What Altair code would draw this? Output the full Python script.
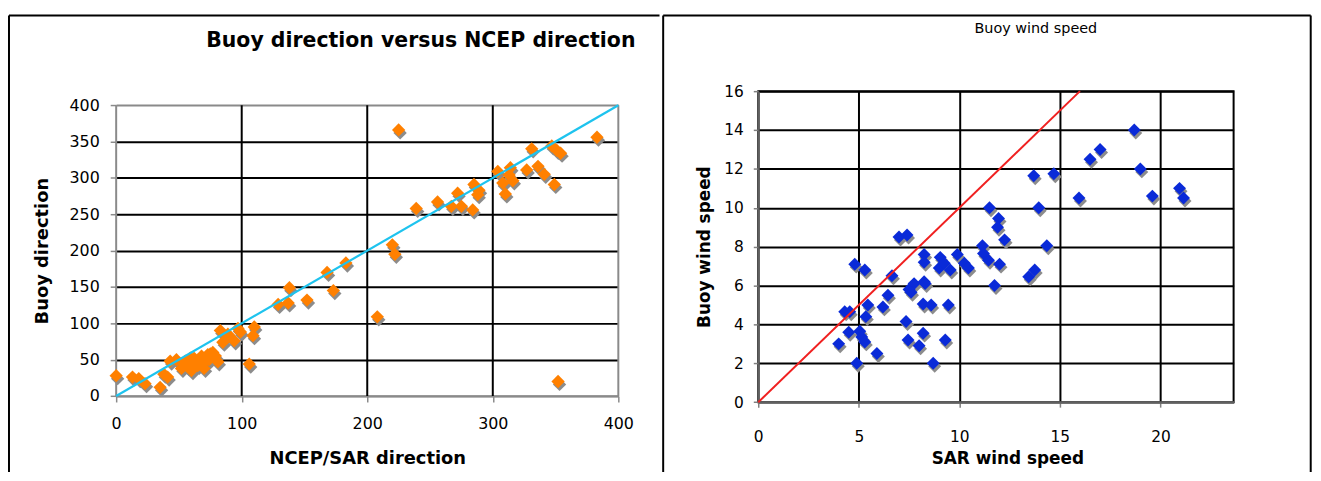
import altair as alt
import pandas as pd

FONT = "DejaVu Sans"

# ---------------- data: left panel (directions) ----------------
dir_ncep = [0, 13, 18, 23, 35, 38, 41, 43, 48, 52, 55, 57, 60, 62, 63, 65, 68, 70, 71, 73,
            75, 77, 81, 83, 85, 89, 94, 97, 99, 106, 109, 110, 129, 137, 138, 152, 168, 173,
            183, 208, 220, 222, 225, 239, 256, 267, 272, 275, 284, 285, 288, 289, 304, 308,
            310, 313, 314, 316, 327, 331, 336, 341, 347, 349, 351, 354, 352, 383,
            54, 59, 67, 74, 79]
dir_buoy = [28, 26, 24, 17, 12, 30, 26, 48, 50, 38, 48, 40, 35, 52, 46, 42, 55, 38, 48, 57,
            58, 60, 47, 90, 74, 85, 76, 93, 88, 44, 83, 95, 126, 128, 149, 132, 170, 145,
            183, 109, 208, 195, 366, 258, 267, 261, 279, 261, 256, 291, 277, 283, 309, 293,
            278, 304, 314, 296, 311, 340, 316, 305, 344, 291, 338, 334, 20, 356,
            44, 52, 45, 50, 55]
dir_line_x = [0, 400]
dir_line_y = [0, 400]
dir_x_ticks = [0, 100, 200, 300, 400]
dir_y_ticks = [0, 50, 100, 150, 200, 250, 300, 350, 400]

# ---------------- data: right panel (wind speed) ----------------
sar_speed = [4.0, 4.3, 4.55, 4.5, 4.8, 4.9, 5.05, 5.15, 5.3, 5.3, 5.35, 5.45, 5.9, 6.2, 6.45,
             6.65, 7.0, 7.4, 7.35, 7.45, 7.5, 7.75, 8.0, 8.2, 8.2, 8.25, 8.25, 8.25, 8.3, 8.6,
             8.7, 9.05, 9.0, 9.25, 9.3, 9.45, 9.55, 9.9, 10.25, 10.45, 11.15, 11.2, 11.45,
             11.5, 11.95, 11.9, 12.25, 12.0, 11.75, 13.7, 14.7, 13.95, 14.35, 13.45, 13.75,
             15.95, 16.5, 17.0, 18.7, 19.0, 19.6, 20.95, 21.15, 7.6]
buoy_speed = [3.0, 4.65, 4.65, 3.6, 7.1, 2.0, 3.65, 3.35, 3.1, 6.8, 4.4, 5.0, 2.5, 4.9, 5.5,
              6.5, 8.5, 8.6, 4.15, 3.2, 5.8, 6.1, 2.9, 3.55, 5.05, 7.6, 7.2, 6.2, 6.1, 5.0,
              2.0, 7.45, 6.9, 7.15, 3.2, 5.0, 6.8, 7.6, 7.15, 6.9, 8.05, 7.65, 7.3, 10.0,
              9.45, 9.0, 8.35, 7.1, 6.0, 11.65, 11.75, 10.0, 8.05, 6.45, 6.8, 10.5, 12.5,
              13.0, 14.0, 12.0, 10.6, 11.0, 10.5, 5.65]
spd_line_x = [0, 16]
spd_line_y = [0, 16]
spd_x_ticks = [0, 5, 10, 15, 20]
spd_y_ticks = [0, 2, 4, 6, 8, 10, 12, 14, 16]

one = pd.DataFrame({"k": [0]})

# ---------------- left panel ----------------
# view spans the same vertical range as the right panel; the y domain is
# stretched so that 0..400 occupies the reference's plot box.
LW, LH = 506, 307.2
L_YTOP = 400 + (102.5 - 88.3) / (293 / 400)
left_df = pd.DataFrame({"ncep": dir_ncep, "buoy": dir_buoy})
left_line = pd.DataFrame({"ncep": dir_line_x, "buoy": dir_line_y})
inner_x = dir_x_ticks[1:-1]
edge_x = [dir_x_ticks[0], dir_x_ticks[-1]]
vgrid_df = pd.DataFrame({"ncep": inner_x, "buoy": [dir_y_ticks[0]] * len(inner_x),
                         "buoy_top": [dir_y_ticks[-1]] * len(inner_x)})
vframe_df = pd.DataFrame({"ncep": edge_x, "buoy": [dir_y_ticks[0]] * len(edge_x),
                          "buoy_top": [dir_y_ticks[-1]] * len(edge_x)})

edge_grid_L = {"condition": {"test": "datum.value == 0 || datum.value == 400", "value": "#8a8a8a"},
               "value": "#000000"}

xL = alt.X("ncep:Q", scale=alt.Scale(domain=[0, 400], nice=False, zero=False),
           axis=alt.Axis(values=dir_x_ticks, grid=False,
                         domainColor="#8a8a8a", domainWidth=2, tickColor="#8a8a8a", tickSize=6,
                         tickWidth=1.5, labelFont=FONT, labelFontSize=16, labelColor="black",
                         labelPadding=14, labelFlush=False, labelOverlap=False,
                         title="NCEP/SAR direction", titleFont=FONT, titleFontSize=18,
                         titleFontWeight="bold", titleColor="black", titleX=LW / 2,
                         titleY=63.5, titleBaseline="middle"))
yL = alt.Y("buoy:Q", scale=alt.Scale(domain=[0, L_YTOP], nice=False, zero=False),
           axis=alt.Axis(values=dir_y_ticks, grid=True, gridColor=edge_grid_L, gridWidth=2,
                         domain=False, tickColor="#8a8a8a", tickSize=6,
                         tickWidth=1.5, labelFont=FONT, labelFontSize=16, labelColor="black",
                         labelPadding=11, labelFlush=False, labelOverlap=False,
                         title="Buoy direction", titleFont=FONT, titleFontSize=18,
                         titleFontWeight="bold", titleColor="black", titleX=-74.5,
                         titleY=249 - 88.3, titleBaseline="middle"))

l_vgrid = alt.Chart(vgrid_df).mark_rule(color="black", strokeWidth=2).encode(
    x=xL, y=yL, y2="buoy_top:Q")
l_vframe = alt.Chart(vframe_df).mark_rule(color="#8a8a8a", strokeWidth=2).encode(
    x=xL, y=yL, y2="buoy_top:Q")
l_shadow = alt.Chart(left_df).mark_point(shape="diamond", filled=True, size=180, opacity=1,
                                         color="#8c8c8c", xOffset=1.5, yOffset=3).encode(x=xL, y=yL)
l_pts = alt.Chart(left_df).mark_point(shape="diamond", filled=True, size=180, opacity=1,
                                      color="#ff8000").encode(x=xL, y=yL)
l_line = alt.Chart(left_line).mark_line(color="#1ec3ee", strokeWidth=2.2).encode(x=xL, y=yL)

l_title = alt.Chart(one).mark_text(text="Buoy direction versus NCEP direction", font=FONT,
                                   fontSize=20.6, fontWeight="bold", color="black",
                                   align="center", baseline="middle").encode(
    x=alt.value(307), y=alt.value(38 - 88.3))
l_top = alt.Chart(one).mark_rule(color="black", strokeWidth=2).encode(
    x=alt.value(-108), x2=alt.value(547.5), y=alt.value(-76.3))
l_left = alt.Chart(one).mark_rule(color="black", strokeWidth=2).encode(
    x=alt.value(-108), y=alt.value(-76.3), y2=alt.value(383.7))

left = alt.layer(l_vgrid, l_vframe, l_shadow, l_pts, l_line, l_title, l_top, l_left).properties(
    width=LW, height=LH, view=alt.ViewBackground(stroke="transparent", strokeWidth=0))

# ---------------- right panel ----------------
RW, RH = 479, 313.4
right_df = pd.DataFrame({"sar": sar_speed, "buoy": buoy_speed})
right_line = pd.DataFrame({"sar": spd_line_x, "buoy": spd_line_y})

edge_grid_R = {"condition": {"test": "datum.value == 0", "value": "#606060"}, "value": "#000000"}

xR = alt.X("sar:Q", scale=alt.Scale(domain=[0, 23.64], nice=False, zero=False),
           axis=alt.Axis(values=spd_x_ticks, grid=True, gridColor=edge_grid_R, gridWidth=2,
                         domainColor="#606060", domainWidth=2, tickColor="#808080", tickSize=5,
                         tickWidth=1.5, labelFont=FONT, labelFontSize=15.5, labelColor="black",
                         labelPadding=23, labelFlush=False, labelOverlap=False,
                         title="SAR wind speed", titleFont=FONT, titleFontSize=17,
                         titleFontWeight="bold", titleColor="black", titleX=251,
                         titleY=57.3, titleBaseline="middle"))
yR = alt.Y("buoy:Q", scale=alt.Scale(domain=[0, 16], nice=False, zero=False),
           axis=alt.Axis(values=spd_y_ticks, grid=True, gridColor=edge_grid_R, gridWidth=2,
                         domainColor="#606060", domainWidth=2, tickColor="#808080", tickSize=5,
                         tickWidth=1.5, labelFont=FONT, labelFontSize=15.5, labelColor="black",
                         labelPadding=10, labelFlush=False, labelOverlap=False,
                         title="Buoy wind speed", titleFont=FONT, titleFontSize=17,
                         titleFontWeight="bold", titleColor="black", titleX=-54.3,
                         titleY=RH / 2, titleBaseline="middle"))

r_shadow = alt.Chart(right_df).mark_point(shape="diamond", filled=True, size=170, opacity=1,
                                          color="#8c8c8c", xOffset=1.5, yOffset=3).encode(x=xR, y=yR)
r_pts = alt.Chart(right_df).mark_point(shape="diamond", filled=True, size=170, opacity=1,
                                       color="#0a2ad8").encode(x=xR, y=yR)
r_line = alt.Chart(right_line).mark_line(color="#f02020", strokeWidth=2).encode(x=xR, y=yR)

r_title = alt.Chart(one).mark_text(text="Buoy wind speed", font=FONT, fontSize=14.5,
                                   color="black", align="center", baseline="middle").encode(
    x=alt.value(279.7), y=alt.value(-62.3))
r_top = alt.Chart(one).mark_rule(color="black", strokeWidth=2).encode(
    x=alt.value(-95.8), x2=alt.value(556.7), y=alt.value(-76.3))
r_div = alt.Chart(one).mark_rule(color="black", strokeWidth=2).encode(
    x=alt.value(-95.8), y=alt.value(-76.3), y2=alt.value(383.7))
r_right = alt.Chart(one).mark_rule(color="black", strokeWidth=2).encode(
    x=alt.value(556.7), y=alt.value(-76.3), y2=alt.value(383.7))

right = alt.layer(r_shadow, r_pts, r_line, r_title, r_top, r_div, r_right).properties(
    width=RW, height=RH, view=alt.ViewBackground(stroke="#000000", strokeWidth=2))

chart = alt.ConcatChart(concat=[left, right], columns=2, spacing=0, align="none",
                        padding={"left": 0, "top": 3, "right": 0, "bottom": 0},
                        background="white")

chart.save("out.html", embed_options={"renderer": "svg", "actions": False})
